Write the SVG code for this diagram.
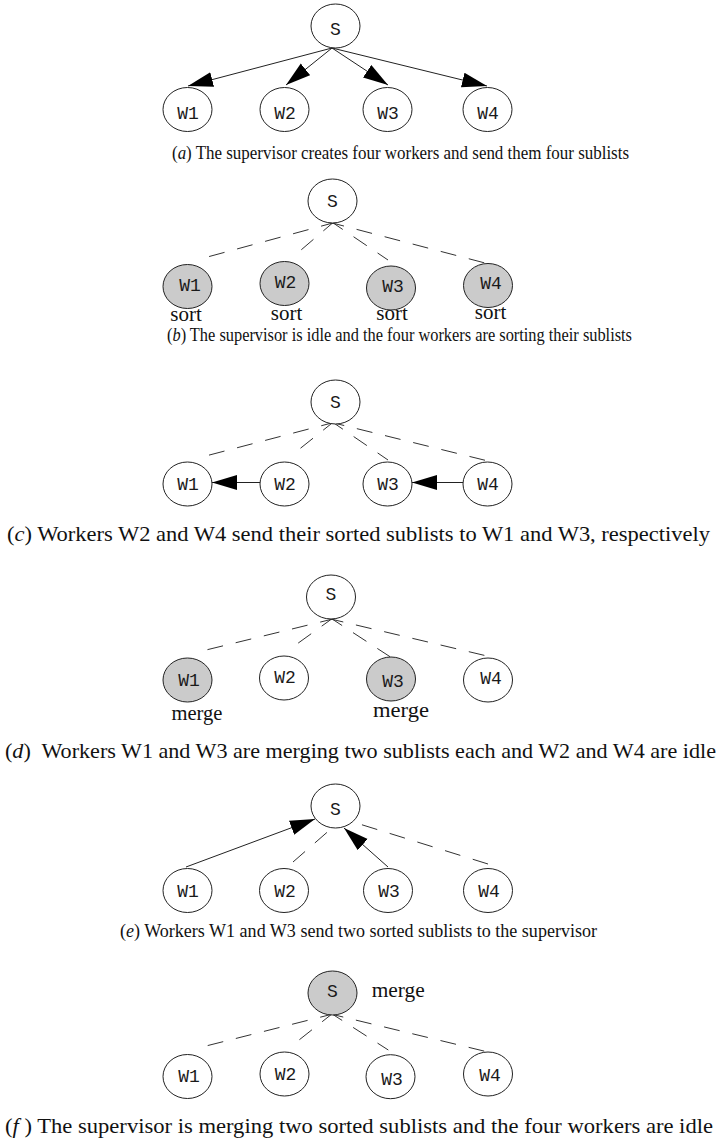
<svg xmlns="http://www.w3.org/2000/svg" width="717" height="1142" viewBox="0 0 717 1142">
<style>
.n{fill:#fff;stroke:#222;stroke-width:1}
.g{fill:#cbcbcb}
.m{font-family:"Liberation Mono","Courier New",monospace;font-size:18px;fill:#1a1a1a;text-anchor:middle}
.c{font-family:"Liberation Serif","Times New Roman",serif;font-size:22px;fill:#111}
.cs{font-family:"Liberation Serif","Times New Roman",serif;font-size:19px;fill:#111}
.l{font-family:"Liberation Serif","Times New Roman",serif;font-size:21px;fill:#111}
.d{stroke:#333;stroke-width:1;fill:none;stroke-dasharray:16 13}
.s{stroke:#222;stroke-width:1;fill:none;marker-end:url(#ah)}
</style>
<defs>
<marker id="ah" markerUnits="userSpaceOnUse" markerWidth="26" markerHeight="16" refX="25" refY="7.5" orient="auto">
<path d="M0,0 L25,7.5 L0,15 Z" fill="#000"/>
</marker>
</defs>

<g id="connectors">
<!-- a -->
<line class="s" x1="332" y1="48" x2="188" y2="86"/>
<line class="s" x1="332" y1="48" x2="286" y2="85"/>
<line class="s" x1="332" y1="48" x2="388" y2="85"/>
<line class="s" x1="332" y1="48" x2="487" y2="86"/>
<!-- b -->
<line class="d" x1="336.5" y1="222" x2="200" y2="259"/>
<line class="d" x1="335.5" y1="220.5" x2="294" y2="256"/>
<line class="d" x1="329.5" y1="220.5" x2="388" y2="260"/>
<line class="d" x1="328.5" y1="222" x2="485" y2="263"/>
<!-- c -->
<line class="d" x1="336.7" y1="421.7" x2="198" y2="458"/>
<line class="d" x1="335.7" y1="420.2" x2="292" y2="455"/>
<line class="d" x1="329.7" y1="420.2" x2="388" y2="460"/>
<line class="d" x1="328.7" y1="421.7" x2="488" y2="461"/>
<line class="s" x1="260" y1="482.5" x2="212" y2="482.5"/>
<line class="s" x1="463" y1="482.5" x2="412" y2="482.5"/>
<!-- d -->
<line class="d" x1="335.7" y1="618.3" x2="195" y2="652.7"/>
<line class="d" x1="334.7" y1="616.8" x2="290" y2="649"/>
<line class="d" x1="328.7" y1="616.8" x2="390" y2="656.7"/>
<line class="d" x1="327.7" y1="618.3" x2="490" y2="656.7"/>
<!-- e -->
<line class="s" x1="186" y1="867" x2="315" y2="819"/>
<line class="d" x1="293" y1="862" x2="332" y2="828"/>
<line class="s" x1="388" y1="867" x2="344" y2="828"/>
<line class="d" x1="488" y1="864" x2="353" y2="822"/>
<!-- f -->
<line class="d" x1="335.7" y1="1013.3" x2="198" y2="1048"/>
<line class="d" x1="334.7" y1="1011.8" x2="292.7" y2="1045"/>
<line class="d" x1="328.7" y1="1011.8" x2="388.3" y2="1050"/>
<line class="d" x1="327.7" y1="1013.3" x2="486.7" y2="1051.7"/>
</g>

<!-- panel a -->
<g id="a-S"><ellipse class="n" cx="335.5" cy="26" rx="24.5" ry="22"/><text class="m" x="335.5" y="35">S</text></g>
<g id="a-W1"><ellipse class="n" cx="187.5" cy="109.5" rx="24.5" ry="22"/><text class="m" x="188" y="119">W1</text></g>
<g id="a-W2"><ellipse class="n" cx="284.5" cy="109.5" rx="24.5" ry="22"/><text class="m" x="285" y="119">W2</text></g>
<g id="a-W3"><ellipse class="n" cx="387.5" cy="109.5" rx="24.5" ry="22"/><text class="m" x="388" y="119">W3</text></g>
<g id="a-W4"><ellipse class="n" cx="487.5" cy="109.5" rx="24.5" ry="22"/><text class="m" x="488" y="119">W4</text></g>
<text class="cs" x="172" y="159" textLength="457" lengthAdjust="spacingAndGlyphs">(<tspan font-style="italic">a</tspan>) The supervisor creates four workers and send them four sublists</text>

<!-- panel b -->
<g id="b-S"><ellipse class="n" cx="332.5" cy="201" rx="24.5" ry="22"/><text class="m" x="332.5" y="207">S</text></g>
<g id="b-W1"><ellipse class="n g" cx="187.5" cy="286.5" rx="24.5" ry="22"/><text class="m" x="190" y="291">W1</text><text class="l" x="186" y="321" text-anchor="middle">sort</text></g>
<g id="b-W2"><ellipse class="n g" cx="284.5" cy="283.5" rx="24.5" ry="22"/><text class="m" x="285.5" y="288">W2</text><text class="l" x="286.5" y="320" text-anchor="middle">sort</text></g>
<g id="b-W3"><ellipse class="n g" cx="391" cy="288" rx="24.5" ry="22"/><text class="m" x="393" y="292">W3</text><text class="l" x="392" y="320" text-anchor="middle">sort</text></g>
<g id="b-W4"><ellipse class="n g" cx="488" cy="285.5" rx="24.5" ry="22"/><text class="m" x="491" y="289">W4</text><text class="l" x="490.5" y="319" text-anchor="middle">sort</text></g>
<text class="cs" x="167" y="341" textLength="465" lengthAdjust="spacingAndGlyphs">(<tspan font-style="italic">b</tspan>) The supervisor is idle and the four workers are sorting their sublists</text>

<!-- panel c -->
<g id="c-S"><ellipse class="n" cx="335.5" cy="402" rx="24.5" ry="22"/><text class="m" x="335.5" y="408">S</text></g>
<g id="c-W1"><ellipse class="n" cx="187.5" cy="484" rx="24.5" ry="22"/><text class="m" x="188" y="490">W1</text></g>
<g id="c-W2"><ellipse class="n" cx="284.5" cy="484" rx="24.5" ry="22"/><text class="m" x="285" y="490">W2</text></g>
<g id="c-W3"><ellipse class="n" cx="387.5" cy="484" rx="24.5" ry="22"/><text class="m" x="388" y="490">W3</text></g>
<g id="c-W4"><ellipse class="n" cx="487.5" cy="484" rx="24.5" ry="22"/><text class="m" x="488" y="490">W4</text></g>
<text class="c" x="7" y="541" textLength="703" lengthAdjust="spacingAndGlyphs">(<tspan font-style="italic">c</tspan>) Workers W2 and W4 send their sorted sublists to W1 and W3, respectively</text>

<!-- panel d -->
<g id="d-S"><ellipse class="n" cx="331" cy="597" rx="24.5" ry="22"/><text class="m" x="331" y="600">S</text></g>
<g id="d-W1"><ellipse class="n g" cx="187.5" cy="680" rx="24.5" ry="22"/><text class="m" x="189" y="686">W1</text><text class="l" x="171.5" y="720" textLength="51" lengthAdjust="spacingAndGlyphs">merge</text></g>
<g id="d-W2"><ellipse class="n" cx="284" cy="678" rx="24.5" ry="22"/><text class="m" x="285" y="683">W2</text></g>
<g id="d-W3"><ellipse class="n g" cx="391" cy="679" rx="24.5" ry="22"/><text class="m" x="393" y="687">W3</text><text class="l" x="373" y="716.5" textLength="56" lengthAdjust="spacingAndGlyphs">merge</text></g>
<g id="d-W4"><ellipse class="n" cx="488" cy="680" rx="24.5" ry="22"/><text class="m" x="491" y="684">W4</text></g>
<text class="c" x="5" y="758" textLength="711" lengthAdjust="spacingAndGlyphs" xml:space="preserve">(<tspan font-style="italic">d</tspan>)  Workers W1 and W3 are merging two sublists each and W2 and W4 are idle</text>

<!-- panel e -->
<g id="e-S"><ellipse class="n" cx="335.5" cy="806" rx="24.5" ry="22"/><text class="m" x="335.5" y="815">S</text></g>
<g id="e-W1"><ellipse class="n" cx="187.5" cy="890.5" rx="24.5" ry="22"/><text class="m" x="188" y="897">W1</text></g>
<g id="e-W2"><ellipse class="n" cx="284" cy="890.5" rx="24.5" ry="22"/><text class="m" x="285" y="897">W2</text></g>
<g id="e-W3"><ellipse class="n" cx="388" cy="890.5" rx="24.5" ry="22"/><text class="m" x="389" y="897">W3</text></g>
<g id="e-W4"><ellipse class="n" cx="488" cy="890.5" rx="24.5" ry="22"/><text class="m" x="489" y="897">W4</text></g>
<text class="cs" x="120" y="937" textLength="477" lengthAdjust="spacingAndGlyphs">(<tspan font-style="italic">e</tspan>) Workers W1 and W3 send two sorted sublists to the supervisor</text>

<!-- panel f -->
<g id="f-S"><ellipse class="n g" cx="332.5" cy="993" rx="24.5" ry="22"/><text class="m" x="332.5" y="997">S</text><text class="l" x="371.7" y="997" textLength="53" lengthAdjust="spacingAndGlyphs">merge</text></g>
<g id="f-W1"><ellipse class="n" cx="187.5" cy="1076.5" rx="24.5" ry="22"/><text class="m" x="189" y="1082">W1</text></g>
<g id="f-W2"><ellipse class="n" cx="284.5" cy="1074" rx="24.5" ry="22"/><text class="m" x="285.5" y="1080">W2</text></g>
<g id="f-W3"><ellipse class="n" cx="390.5" cy="1076.7" rx="24.5" ry="22"/><text class="m" x="392" y="1085">W3</text></g>
<g id="f-W4"><ellipse class="n" cx="488" cy="1074" rx="24.5" ry="22"/><text class="m" x="490" y="1081">W4</text></g>
<text class="c" x="5" y="1133" textLength="708" lengthAdjust="spacingAndGlyphs" xml:space="preserve">(<tspan font-style="italic">f</tspan> ) The supervisor is merging two sorted sublists and the four workers are idle</text>
</svg>
